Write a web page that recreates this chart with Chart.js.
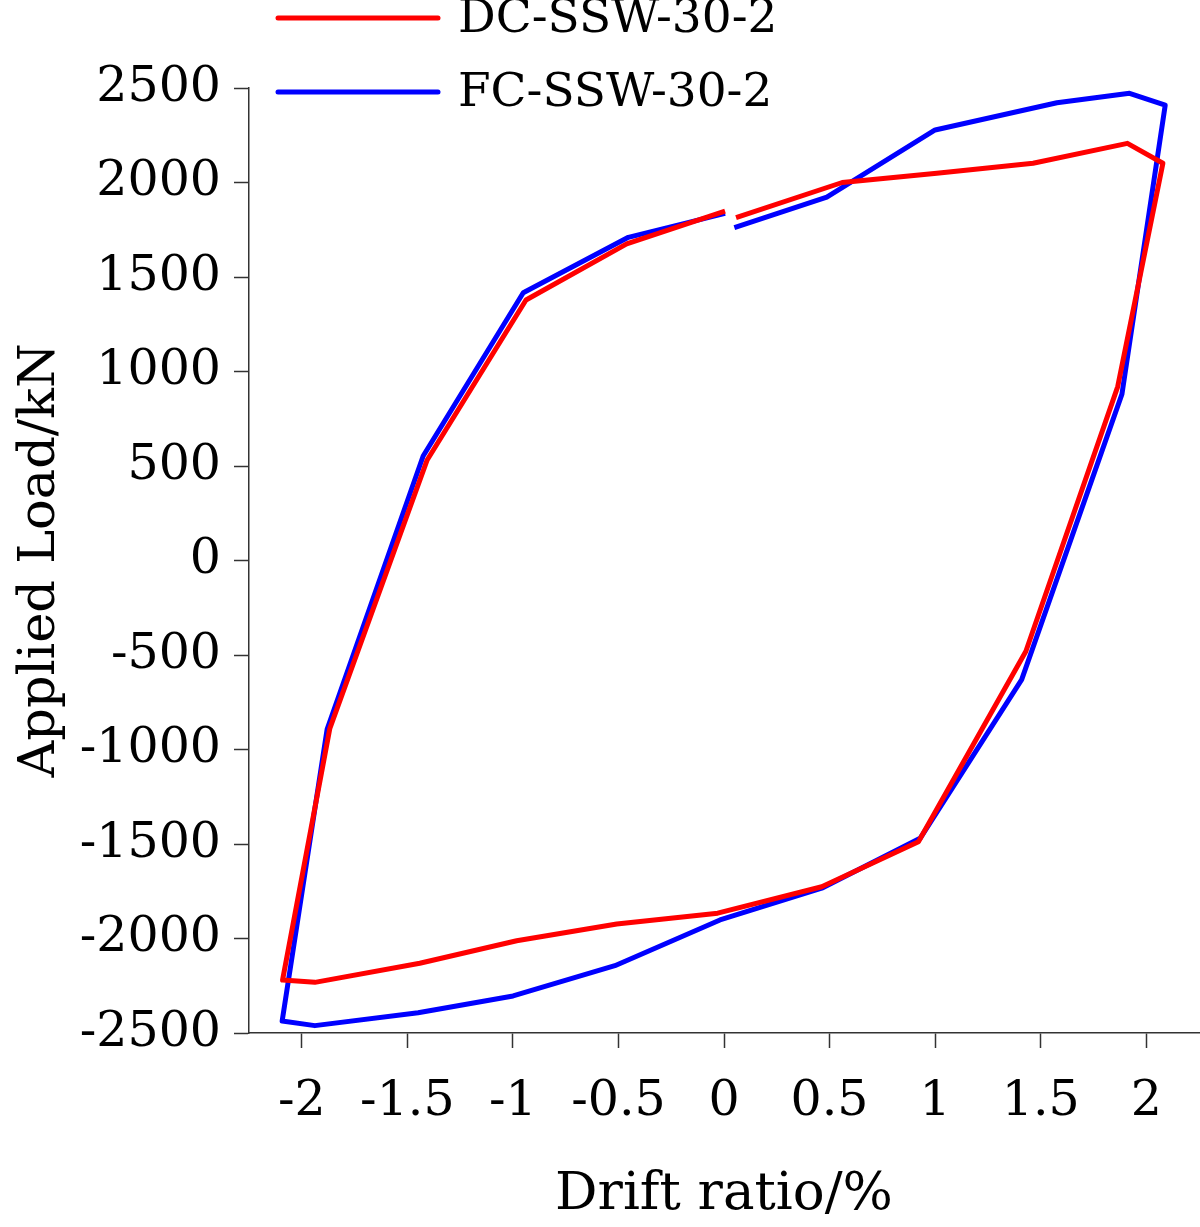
<!DOCTYPE html>
<html>
<head>
<meta charset="utf-8">
<script src="https://cdn.jsdelivr.net/npm/chart.js@4.4.1/dist/chart.umd.min.js"></script>
<style>
  html, body { margin: 0; padding: 0; background: #ffffff; }
  #wrap { width: 1200px; height: 1227px; }
</style>
</head>
<body>
<div id="wrap"><canvas id="c" width="1200" height="1227"></canvas></div>
<script>
// ---- data ----
const seriesNames = ["DC-SSW-30-2", "FC-SSW-30-2"];
const driftDC = [0.057, 0.56, 1.008, 1.464, 1.911, 2.079, 1.865, 1.43, 0.921, 0.463, -0.03, -0.508, -0.982, -1.441, -1.938, -2.091, -1.867, -1.406, -0.938, -0.461, 0.005];
const loadDC  = [1814, 2000, 2049, 2102, 2207, 2102, 920, -480, -1488, -1726, -1866, -1923, -2012, -2131, -2232, -2220, -888, 532, 1378, 1675, 1849];
const driftFC = [0.049, 0.487, 1.0, 1.577, 1.921, 2.090, 1.885, 1.41, 0.929, 0.463, -0.019, -0.517, -0.999, -1.449, -1.938, -2.093, -1.880, -1.425, -0.951, -0.453, 0.005];
const loadFC  = [1761, 1922, 2278, 2422, 2472, 2410, 880, -630, -1470, -1734, -1902, -2144, -2304, -2393, -2461, -2437, -893, 553, 1417, 1710, 1837];
const xTicks = [-2, -1.5, -1, -0.5, 0, 0.5, 1, 1.5, 2];
const yTicks = [-2500, -2000, -1500, -1000, -500, 0, 500, 1000, 1500, 2000, 2500];
const xTitle = "Drift ratio/%";
const yTitle = "Applied Load/kN";

const FONT = "'DejaVu Serif', 'Liberation Serif', serif";
const FS = 49;
const colors = ["#ff0000", "#0000ff"];

function toPoints(xs, ys) { return xs.map((x, i) => ({ x: x, y: ys[i] })); }

const legendPlugin = {
  id: 'customLegend',
  afterDraw(chart) {
    const ctx = chart.ctx;
    const rows = [18, 92];
    ctx.save();
    seriesNames.forEach((name, i) => {
      ctx.strokeStyle = colors[i];
      ctx.lineWidth = 5;
      ctx.lineCap = 'round';
      ctx.beginPath();
      ctx.moveTo(278, rows[i]);
      ctx.lineTo(438, rows[i]);
      ctx.stroke();
      ctx.fillStyle = '#000';
      ctx.font = "47px " + FONT;
      ctx.textBaseline = 'middle';
      ctx.textAlign = 'left';
      ctx.fillText(name, 458, rows[i] + 2);
    });
    ctx.restore();
  }
};

new Chart(document.getElementById('c'), {
  type: 'scatter',
  data: {
    datasets: [
      { label: seriesNames[0], data: toPoints(driftDC, loadDC), showLine: true, borderColor: colors[0], backgroundColor: colors[0], borderWidth: 5, pointRadius: 0, tension: 0, borderJoinStyle: 'round' },
      { label: seriesNames[1], data: toPoints(driftFC, loadFC), showLine: true, borderColor: colors[1], backgroundColor: colors[1], borderWidth: 5, pointRadius: 0, tension: 0, borderJoinStyle: 'round' }
    ]
  },
  options: {
    responsive: false,
    animation: false,
    layout: { padding: { top: 88, left: 0, right: 1, bottom: 0 } },
    plugins: { legend: { display: false }, tooltip: { enabled: false } },
    scales: {
      x: {
        type: 'linear',
        min: -2.25, max: 2.25,
        afterBuildTicks: (s) => { s.ticks = xTicks.map(v => ({ value: v })); },
        afterFit: (s) => { s.height = 194; },
        grid: { display: true, drawOnChartArea: false, drawTicks: true, tickLength: 15, tickColor: '#333', tickWidth: 1.5 },
        border: { display: true, color: '#333', width: 1.5 },
        ticks: { color: '#000', font: { family: FONT, size: FS }, padding: 25, maxRotation: 0, autoSkip: false, callback: (v) => String(v) },
        title: { display: true, text: xTitle, color: '#000', font: { family: FONT, size: 53 }, padding: { top: 0, bottom: 0 } }
      },
      y: {
        type: 'linear',
        min: -2500, max: 2500,
        afterBuildTicks: (s) => { s.ticks = yTicks.map(v => ({ value: v })); },
        afterFit: (s) => { s.width = 249; },
        grid: { display: true, drawOnChartArea: false, drawTicks: true, tickLength: 15, tickColor: '#333', tickWidth: 1.5 },
        border: { display: true, color: '#333', width: 1.5 },
        ticks: { color: '#000', font: { family: FONT, size: FS }, padding: 13, autoSkip: false, callback: (v) => String(v) },
        title: { display: true, text: yTitle, color: '#000', font: { family: FONT, size: 51 }, padding: { top: 10, bottom: 0 } }
      }
    }
  },
  plugins: [legendPlugin]
});
</script>
</body>
</html>
